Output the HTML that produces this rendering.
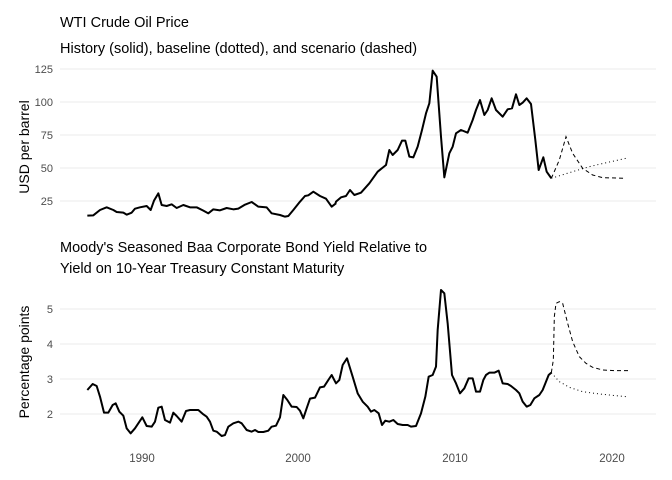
<!DOCTYPE html>
<html><head><meta charset="utf-8"><style>
html,body{margin:0;padding:0;background:#fff;}
svg{display:block;font-family:"Liberation Sans",sans-serif;}
.t{font-size:14.5px;fill:#000}
.tk{font-size:11px;fill:#4d4d4d}
.at{font-size:14px;fill:#000}
.g line{stroke:#ebebeb;stroke-width:1}
.s{fill:none;stroke:#000;stroke-width:6;stroke-linejoin:round}
.d{fill:none;stroke:#000;stroke-width:3;stroke-dasharray:12 9}
.o{fill:none;stroke:#000;stroke-width:3;stroke-dasharray:3 9}
</style></head><body>
<svg width="672" height="480" viewBox="0 0 672 480">
<text class="t" x="60" y="27">WTI Crude Oil Price</text>
<text class="t" x="60" y="53">History (solid), baseline (dotted), and scenario (dashed)</text>
<g class="g">
<line x1="60" x2="656" y1="69" y2="69"/><line x1="60" x2="656" y1="102" y2="102"/><line x1="60" x2="656" y1="135" y2="135"/><line x1="60" x2="656" y1="168" y2="168"/><line x1="60" x2="656" y1="201" y2="201"/>
<line x1="60" x2="656" y1="309" y2="309"/><line x1="60" x2="656" y1="344" y2="344"/><line x1="60" x2="656" y1="379" y2="379"/><line x1="60" x2="656" y1="414" y2="414"/>
</g>
<g class="tk" text-anchor="end">
<text x="53" y="73">125</text><text x="53" y="106">100</text><text x="53" y="139">75</text><text x="53" y="172">50</text><text x="53" y="205">25</text>
<text x="53" y="313">5</text><text x="53" y="348">4</text><text x="53" y="383">3</text><text x="53" y="418">2</text>
</g>
<g class="tk" text-anchor="middle" style="font-size:11.5px">
<text x="142" y="462">1990</text><text x="298" y="462">2000</text><text x="455" y="462">2010</text><text x="612" y="462">2020</text>
</g>
<text class="at" transform="translate(29,147) rotate(-90)" text-anchor="middle">USD per barrel</text>
<text class="at" transform="translate(29,362) rotate(-90)" text-anchor="middle">Percentage points</text>
<text class="t" x="60" y="252">Moody's Seasoned Baa Corporate Bond Yield Relative to</text>
<text class="t" x="60" y="273">Yield on 10-Year Treasury Constant Maturity</text>

<g transform="translate(0,50) scale(0.33333)">
<polyline class="s" points="262,497 280,496 300,480 320,472 340,480 350,486 370,488 380,494 395,488 405,476 420,472 440,468 452,480 462,452 475,430 485,465 500,468 515,463 530,474 550,465 570,472 590,472 610,482 625,490 640,478 660,481 680,474 700,478 715,476 735,464 755,456 775,470 800,472 815,490 840,495 855,500 865,498 880,480 900,455 915,438 925,436 940,425 960,438 978,446 995,470 1008,460"/>
</g>
<g transform="translate(336,50) scale(0.33333)">
<polyline class="s" points="-2,462 0,455 15,442 30,438 42,420 55,435 75,428 100,400 125,365 150,345 160,300 170,315 185,300 198,272 208,272 220,320 232,322 245,290 258,240 270,190 280,160 290,62 302,80 315,260 325,382 340,310 350,290 360,250 375,240 395,248 410,210 420,180 432,150 445,195 455,180 467,145 480,180 500,200 515,178 528,175 540,133 550,165 560,158 572,145 585,162 598,270 608,360 622,322 632,365 646,385"/>
<polyline class="d" points="646,385 670,330 690,260 710,310 740,355 770,375 800,383 870,385"/>
<polyline class="o" points="646,385 700,368 760,350 820,336 870,325"/>
</g>
<g transform="translate(0,280) scale(0.33333)">
<polyline class="s" points="262,330 278,312 290,318 300,350 312,398 325,398 338,375 347,370 358,395 370,407 380,445 392,460 405,445 427,412 440,438 455,440 465,425 475,383 485,380 495,420 510,428 520,398 530,408 545,425 558,393 570,390 595,390 610,403 620,410 630,425 640,452 650,455 665,468 675,465 685,440 700,430 715,425 725,430 740,450 755,455 765,450 775,456 790,456 805,452 815,440 828,437 840,412 850,345 862,360 875,380 890,381 900,392 910,415 920,385 930,356 945,353 960,322 972,320 985,300 995,285 1008,310"/>
</g>
<g transform="translate(336,280) scale(0.33333)">
<polyline class="s" points="-2,310 0,310 10,300 20,255 33,235 50,290 65,340 80,365 95,380 105,395 115,390 128,400 138,435 148,422 160,425 172,420 185,432 200,435 215,435 225,440 240,438 255,400 268,350 278,290 290,285 300,260 305,150 315,30 325,40 335,130 348,285 360,310 372,340 385,325 398,295 410,295 420,335 432,335 442,300 450,285 460,278 475,278 488,272 500,310 515,312 525,318 540,330 550,340 560,365 572,380 583,375 595,355 610,345 620,330 628,310 638,285 646,278"/>
<polyline class="d" points="646,278 652,240 655,110 660,70 670,65 680,70 695,130 710,185 730,230 750,250 770,262 800,270 840,272 880,272"/>
<polyline class="o" points="646,278 670,305 700,322 740,335 790,342 870,350"/>
</g>
</svg>
</body></html>
